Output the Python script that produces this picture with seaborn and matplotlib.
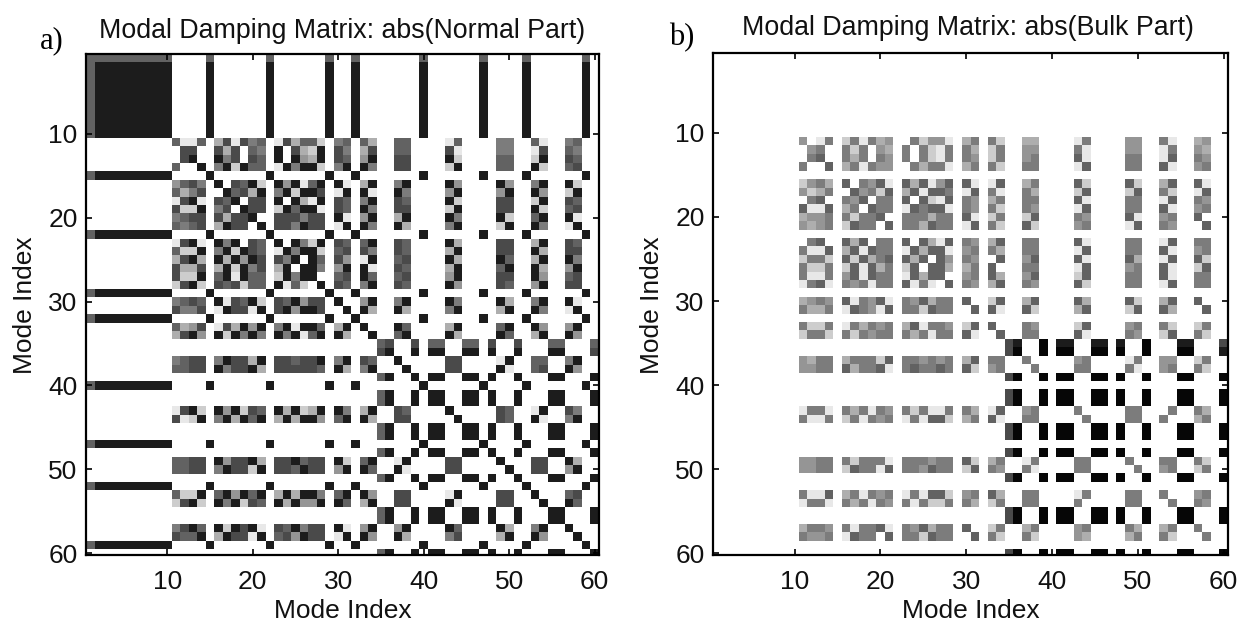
import numpy as np
import matplotlib
matplotlib.use("Agg")
import matplotlib.pyplot as plt
from matplotlib.colors import ListedColormap
import seaborn as sns

sns.set_theme(style="white")
plt.rcParams['font.family'] = ['Liberation Sans', 'DejaVu Sans']

# darkness levels 0 (white) .. 9 (black), read per cell; spaces only group the modes
NS1 = "6666666666 0000 6 000000 6 000000 6 00 6 00 00 00 0 6 00 00 00 6 0 00 0 6 00 00 00 6 0"
NS = "6888888888 0000 8 000000 8 000000 8 00 8 00 00 00 0 8 00 00 00 8 0 00 0 8 00 00 00 8 0"
NH = "0000000000 0000 0 000000 0 000000 0 00 0 00 68 00 8 0 88 00 88 0 8 00 8 0 00 88 00 0 8"
normal_rows = [
    NS1, NS, NS, NS, NS, NS, NS, NS, NS, NS,
    "0000000000 6116 0 371756 0 173662 0 56 0 63 00 66 0 0 00 16 00 0 0 55 0 0 61 00 56 0 0",
    "0000000000 0770 0 737065 0 807328 0 75 0 37 00 66 0 0 00 71 00 0 0 55 0 0 17 00 65 0 0",
    "0000000000 0780 0 857076 0 808438 0 76 0 48 00 77 0 0 00 82 00 0 0 66 0 0 28 00 76 0 0",
    "0000000000 6008 0 582866 0 185882 0 58 0 85 00 77 0 0 00 28 00 0 0 66 0 0 82 00 67 0 0",
    NS,
    "0000000000 4675 0 807682 0 848168 0 81 0 38 00 58 0 0 00 84 00 0 0 84 0 0 58 00 82 0 0",
    "0000000000 6357 0 086738 0 582887 0 18 0 81 00 85 0 0 00 48 00 0 0 48 0 0 84 00 28 0 0",
    "0000000000 1781 0 768077 0 808318 0 76 0 58 00 76 0 0 00 82 00 0 0 77 0 0 28 00 76 0 0",
    "0000000000 7228 0 570877 0 286881 0 76 0 85 00 77 0 0 00 28 00 0 0 77 0 0 82 00 67 0 0",
    "0000000000 5677 0 737780 0 777577 0 81 0 48 00 38 0 0 00 85 00 0 0 82 0 0 68 00 81 0 0",
    "0000000000 6567 0 387708 0 775877 0 18 0 85 00 83 0 0 00 58 00 0 0 28 0 0 85 00 18 0 0",
    NS,
    "0000000000 1781 0 858076 0 808528 0 76 0 68 00 76 0 0 00 83 00 0 0 77 0 0 38 00 76 0 0",
    "0000000000 6228 0 582876 0 185882 0 67 0 75 00 76 0 0 00 38 00 0 0 77 0 0 83 00 77 0 0",
    "0000000000 3783 0 838487 0 758086 0 74 0 18 00 67 0 0 00 83 00 0 0 86 0 0 38 00 85 0 0",
    "0000000000 7337 0 382857 0 380885 0 48 0 81 00 76 0 0 00 38 00 0 0 68 0 0 83 00 48 0 0",
    "0000000000 7228 0 681866 0 285880 0 67 0 86 00 67 0 0 00 48 00 0 0 77 0 0 84 00 67 0 0",
    "0000000000 2782 0 767266 0 816208 0 76 0 58 00 76 0 0 00 84 00 0 0 76 0 0 48 00 77 0 0",
    NS,
    "0000000000 5676 0 817682 0 768477 0 80 0 48 00 58 0 0 00 85 00 0 0 83 0 0 58 00 81 0 0",
    "0000000000 7557 0 187718 0 784887 0 08 0 83 00 83 0 0 00 58 00 0 0 38 0 0 85 00 18 0 0",
    NS,
    "0000000000 6347 0 173848 0 581886 0 38 0 80 00 86 0 0 00 38 00 0 0 68 0 0 84 00 48 0 0",
    "0000000000 3784 0 828585 0 858168 0 83 0 08 00 68 0 0 00 83 00 0 0 86 0 0 38 00 84 0 0",
    "0000000000 0000 0 000000 0 000000 0 00 0 00 67 00 7 0 66 00 66 0 7 00 7 0 00 66 00 0 6",
    "0000000000 0000 0 000000 0 000000 0 00 0 00 78 00 8 0 88 00 88 0 8 00 8 0 00 88 00 0 7",
    "0000000000 5677 0 587738 0 776778 0 58 0 76 00 80 0 0 00 77 00 0 0 18 0 0 66 00 58 0 0",
    "0000000000 6677 0 857783 0 777776 0 83 0 58 00 08 0 0 00 77 00 0 0 81 0 0 67 00 84 0 0",
    NH, NS, NH, NH,
    "0000000000 1782 0 848276 0 838238 0 85 0 38 00 76 0 0 00 80 00 0 0 76 0 0 18 00 75 0 0",
    "0000000000 7128 0 583868 0 383884 0 68 0 83 00 77 0 0 00 08 00 0 0 76 0 0 81 00 58 0 0",
    NH, NH, NS, NH,
    "0000000000 6677 0 847783 0 778677 0 82 0 68 00 18 0 0 00 77 00 0 0 80 0 0 77 00 83 0 0",
    "0000000000 6677 0 587728 0 776877 0 48 0 86 00 81 0 0 00 77 00 0 0 08 0 0 77 00 48 0 0",
    NH, NS,
    "0000000000 6228 0 684868 0 383885 0 68 0 84 00 77 0 0 00 18 00 0 0 77 0 0 80 00 67 0 0",
    "0000000000 2782 0 858276 0 838448 0 86 0 38 00 77 0 0 00 81 00 0 0 77 0 0 08 00 86 0 0",
    NH, NH,
    "0000000000 5786 0 828781 0 768577 0 81 0 48 00 48 0 0 00 86 00 0 0 83 0 0 58 00 80 0 0",
    "0000000000 7668 0 387718 0 674877 0 18 0 84 00 83 0 0 00 57 00 0 0 38 0 0 84 00 08 0 0",
    NS, NH,
]

B0 = "0000000000 0000 0 000000 0 000000 0 00 0 00 00 00 0 0 00 00 00 0 0 00 0 0 00 00 00 0 0"
BH = "0000000000 0000 0 000000 0 000000 0 00 0 00 79 00 9 0 99 00 99 0 9 00 9 0 00 99 00 0 9"
bulk_rows = [
    B0, B0, B0, B0, B0, B0, B0, B0, B0, B0,
    "0000000000 4015 0 251534 0 052441 0 35 0 52 00 33 0 0 00 15 00 0 0 44 0 0 51 00 34 0 0",
    "0000000000 0450 0 525043 0 505215 0 53 0 25 00 44 0 0 00 51 00 0 0 44 0 0 15 00 43 0 0",
    "0000000000 0560 0 535054 0 505215 0 54 0 25 00 45 0 0 00 61 00 0 0 55 0 0 16 00 54 0 0",
    "0000000000 5006 0 351544 0 053551 0 35 0 52 00 55 0 0 00 16 00 0 0 55 0 0 61 00 45 0 0",
    B0,
    "0000000000 2453 0 605461 0 636146 0 61 0 16 00 35 0 0 00 62 00 0 0 62 0 0 36 00 61 0 0",
    "0000000000 4235 0 064526 0 361665 0 16 0 51 00 53 0 0 00 26 00 0 0 26 0 0 52 00 16 0 0",
    "0000000000 0560 0 546055 0 606216 0 54 0 35 00 55 0 0 00 61 00 0 0 55 0 0 16 00 54 0 0",
    "0000000000 6116 0 350655 0 165661 0 54 0 52 00 54 0 0 00 16 00 0 0 55 0 0 61 00 45 0 0",
    "0000000000 3445 0 525560 0 555355 0 61 0 25 00 26 0 0 00 54 00 0 0 61 0 0 45 00 60 0 0",
    "0000000000 4345 0 265506 0 553655 0 16 0 52 00 62 0 0 00 45 00 0 0 16 0 0 54 00 06 0 0",
    B0,
    "0000000000 0560 0 636055 0 606316 0 54 0 36 00 55 0 0 00 61 00 0 0 55 0 0 16 00 55 0 0",
    "0000000000 5116 0 361655 0 163661 0 45 0 53 00 55 0 0 00 16 00 0 0 55 0 0 61 00 45 0 0",
    "0000000000 2552 0 626356 0 636064 0 54 0 06 00 46 0 0 00 61 00 0 0 63 0 0 16 00 62 0 0",
    "0000000000 5225 0 261635 0 260663 0 35 0 60 00 55 0 0 00 16 00 0 0 45 0 0 61 00 26 0 0",
    "0000000000 5115 0 461655 0 163660 0 45 0 63 00 46 0 0 00 26 00 0 0 55 0 0 61 00 55 0 0",
    "0000000000 1561 0 545155 0 615106 0 54 0 36 00 54 0 0 00 62 00 0 0 55 0 0 16 00 55 0 0",
    B0,
    "0000000000 3454 0 615461 0 546355 0 60 0 26 00 36 0 0 00 63 00 0 0 62 0 0 36 00 60 0 0",
    "0000000000 5335 0 165416 0 552655 0 06 0 61 00 62 0 0 00 36 00 0 0 26 0 0 63 00 06 0 0",
    B0,
    "0000000000 5225 0 153545 0 361554 0 26 0 60 00 54 0 0 00 26 00 0 0 45 0 0 52 00 25 0 0",
    "0000000000 2552 0 525455 0 535155 0 61 0 06 00 55 0 0 00 61 00 0 0 54 0 0 26 00 52 0 0",
    "0000000000 0000 0 000000 0 000000 0 00 0 00 78 00 9 0 88 00 88 0 8 00 9 0 00 88 00 0 7",
    "0000000000 0000 0 000000 0 000000 0 00 0 00 79 00 9 0 99 00 99 0 9 00 9 0 00 99 00 0 8",
    "0000000000 4355 0 355526 0 554545 0 36 0 55 00 50 0 0 00 45 00 0 0 15 0 0 44 00 25 0 0",
    "0000000000 4455 0 635561 0 565565 0 62 0 45 00 05 0 0 00 55 00 0 0 51 0 0 45 00 52 0 0",
    BH, B0, BH, BH,
    "0000000000 1551 0 535154 0 525115 0 53 0 16 00 45 0 0 00 50 00 0 0 55 0 0 05 00 53 0 0",
    "0000000000 5115 0 251545 0 151662 0 35 0 61 00 55 0 0 00 05 00 0 0 55 0 0 50 00 35 0 0",
    BH, BH, B0, BH,
    "0000000000 4455 0 525551 0 555455 0 62 0 35 00 15 0 0 00 55 00 0 0 50 0 0 55 00 52 0 0",
    "0000000000 4455 0 265516 0 554655 0 26 0 54 00 51 0 0 00 55 00 0 0 05 0 0 45 00 25 0 0",
    BH, B0,
    "0000000000 5116 0 351545 0 151662 0 45 0 63 00 55 0 0 00 15 00 0 0 55 0 0 50 00 45 0 0",
    "0000000000 1551 0 535154 0 515225 0 53 0 25 00 55 0 0 00 50 00 0 0 55 0 0 05 00 54 0 0",
    BH, BH,
    "0000000000 3554 0 515561 0 546355 0 60 0 25 00 35 0 0 00 45 00 0 0 53 0 0 35 00 50 0 0",
    "0000000000 5445 0 165506 0 552655 0 06 0 52 00 52 0 0 00 43 00 0 0 35 0 0 52 00 05 0 0",
    B0, BH,
]

tick_modes = [10, 20, 30, 40, 50, 60]
titles = ["Modal Damping Matrix: abs(Normal Part)", "Modal Damping Matrix: abs(Bulk Part)"]
panel_tags = ["a)", "b)"]
axis_label = "Mode Index"
level_greys = ["#ffffff", "#e8e8e8", "#cdcdcd", "#aeaeae", "#959595",
               "#7c7c7c", "#626262", "#4a4a4a", "#1c1c1c", "#060606"]


def to_matrix(rows):
    m = np.array([[int(ch) for ch in r.replace(" ", "")] for r in rows], dtype=float)
    assert m.shape == (60, 60), m.shape
    return m


W, H = 1246, 623
fig = plt.figure(figsize=(W / 100, H / 100), dpi=100, facecolor="white")

boxes = [(86, 599, 54, 555), (713, 1228, 53, 555)]
title_xy = [(342, 31), (968, 28)]
tag_xy = [(52, 41), (682, 38)]
ylabel_x = [25, 652]
grey_map = ListedColormap(level_greys)

for i, rows in enumerate([normal_rows, bulk_rows]):
    l, r, t, b = boxes[i]
    ax = fig.add_axes([l / W, 1 - b / H, (r - l) / W, (b - t) / H])
    sns.heatmap(to_matrix(rows), ax=ax, cmap=grey_map, vmin=-0.5, vmax=9.5, cbar=False,
                xticklabels=False, yticklabels=False, square=False)
    ax.set_xlim(0, 60)
    ax.set_ylim(59.7, 0)
    ax.set_axisbelow(False)
    pos = [m - 0.5 for m in tick_modes]
    ax.set_xticks(pos)
    ax.set_xticklabels(tick_modes)
    ax.set_yticks(pos)
    ax.set_yticklabels(tick_modes)
    ax.tick_params(axis="both", which="major", direction="in", top=True, right=True,
                   bottom=True, left=True, length=4.5, width=1.2, color="black",
                   labelsize=19, labelcolor="#111111")
    ax.tick_params(axis="x", pad=11)
    ax.tick_params(axis="y", pad=6)
    for s in ax.spines.values():
        s.set_visible(True)
        s.set_color("black")
        s.set_linewidth(1.6)
    fig.text((l + r) / 2 / W, 1 - 611 / H, axis_label, fontsize=19, color="#111111",
             ha="center", va="center")
    fig.text(ylabel_x[i] / W, 1 - 305 / H, axis_label, fontsize=19, color="#111111",
             rotation=90, ha="center", va="center")
    fig.text(title_xy[i][0] / W, 1 - title_xy[i][1] / H, titles[i], fontsize=19.3,
             color="#111111", ha="center", va="center")
    fig.text(tag_xy[i][0] / W, 1 - tag_xy[i][1] / H, panel_tags[i], fontsize=22,
             family="Liberation Serif", color="black", ha="center", va="center")

fig.savefig("out.png", dpi=100, facecolor="white")
